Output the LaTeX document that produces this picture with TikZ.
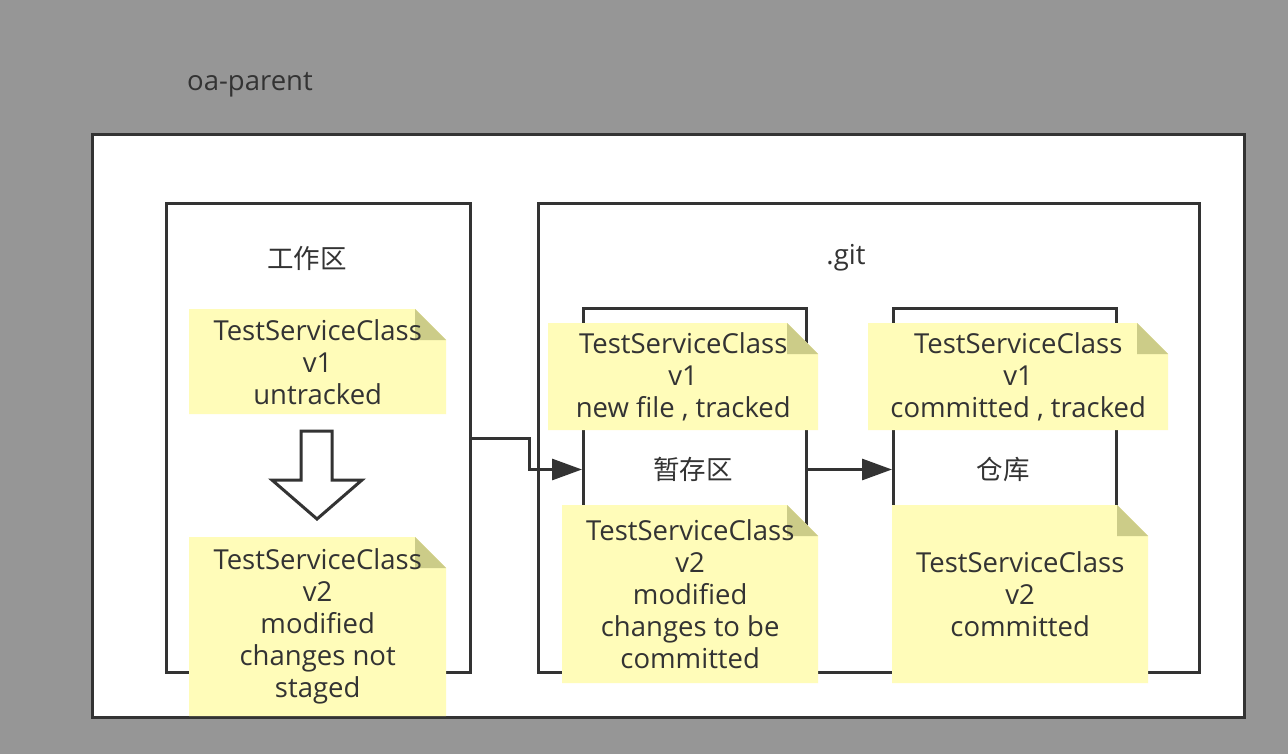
\documentclass[tikz,border=0pt]{standalone}
\usepackage{fontspec}
\setmainfont{Open Sans}
\newfontfamily\cjkfont{Noto Sans CJK SC}
\usetikzlibrary{arrows.meta,positioning}
\definecolor{canvasgrey}{RGB}{150,150,150}
\definecolor{linedark}{RGB}{51,51,51}
\definecolor{noteyellow}{RGB}{255,252,185}
\definecolor{notefold}{RGB}{204,204,136}
\newcommand{\notefont}{\fontsize{27.5}{32}\selectfont}
\newcommand{\cjktitlefont}{\fontsize{26.5}{32}\selectfont\cjkfont}
\tikzset{
  >={Triangle[length=30pt,width=21pt]},
  flow/.style={->, line width=3pt, draw=linedark},
  box/.style={
    draw=linedark,
    line width=3pt,
    fill=white,
    inner sep=0pt,
    anchor=north west
  },
  notebox/.style={
    inner sep=0pt,
    anchor=north west,
    align=center,
    text=linedark,
    font=\notefont,
    path picture={
      \fill[noteyellow] (path picture bounding box.south west)
        -- (path picture bounding box.north west)
        -- ([xshift=-31pt]path picture bounding box.north east)
        -- ([yshift=-31pt]path picture bounding box.north east)
        -- (path picture bounding box.south east) -- cycle;
      \fill[notefold] ([xshift=-31pt]path picture bounding box.north east)
        -- ([yshift=-31pt]path picture bounding box.north east)
        -- ([xshift=-31pt,yshift=-31pt]path picture bounding box.north east) -- cycle;
    }
  },
  areatext/.style={text=linedark, font=\notefont}
}
\begin{document}
\begin{tikzpicture}[x=1pt, y=-1pt]
  \fill[canvasgrey] (0,0) rectangle (1288,754);
  \useasboundingbox (0,0) rectangle (1288,754);

  \node[areatext] (parenttitle) at (250,85) {oa-parent};
  \node[box, minimum width=1152pt, minimum height=583pt] (parent) at (91,133) {};

  % working area
  \node[box, minimum width=304pt, minimum height=469pt] (work) at (165,202) {};
  \node[areatext, font=\cjktitlefont] (worktitle) at (307,258) {工作区};

  % .git with stage and repository
  \node[box, minimum width=661pt, minimum height=469pt] (git) at (537,202) {};
  \node[areatext] (gittitle) at (846,258) {.git};
  \node[box, minimum width=223pt, minimum height=322pt] (stage) at (582,307) {};
  \node[areatext, font=\cjktitlefont] (stagetitle) at (693,469) {暂存区};
  \node[box, minimum width=223pt, minimum height=322pt] (repo) at (892,307) {};
  \node[areatext, font=\cjktitlefont] (repotitle) at (1003,469) {仓库};

  \draw[flow] (work.east) -- ++(57,0) |- (stage.west);
  \draw[flow] (stage.east) -- (repo.west);

  % notes
  \node[notebox, minimum width=257pt, minimum height=105pt] (workone) at (189,309)
    {TestServiceClass\\v1\\untracked};
  \node[notebox, minimum width=257pt, minimum height=179pt] (worktwo) at (189,537)
    {TestServiceClass\\v2\\modified\\changes not\\staged};
  \node[notebox, minimum width=270pt, minimum height=107pt] (stageone) at (548,323)
    {TestServiceClass\\v1\\new file , tracked};
  \node[notebox, minimum width=256pt, minimum height=178pt] (stagetwo) at (562,505)
    {TestServiceClass\\v2\\modified\\changes to be\\committed};
  \node[notebox, minimum width=300pt, minimum height=107pt] (repoone) at (868,323)
    {TestServiceClass\\v1\\committed , tracked};
  \node[notebox, minimum width=256pt, minimum height=178pt] (repotwo) at (892,505)
    {TestServiceClass\\v2\\committed};

  % hollow arrow between versions
  \draw[line width=3pt, draw=linedark, fill=white, miter limit=4]
    (301,431) -- (332,431) -- (332,480) -- (362,480) -- (317,519)
    -- (272,480) -- (301,480) -- cycle;
\end{tikzpicture}
\end{document}
